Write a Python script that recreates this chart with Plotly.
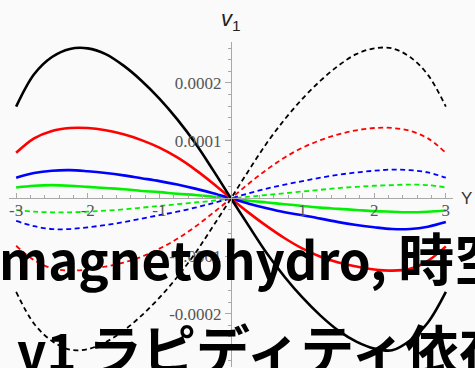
import plotly.graph_objects as go

# Rapidity grid
rapidity = [-3, -2.75, -2.5, -2.25, -2, -1.75, -1.5, -1.25, -1, -0.75, -0.5, -0.25,
            0, 0.25, 0.5, 0.75, 1, 1.25, 1.5, 1.75, 2, 2.25, 2.5, 2.75, 3]

# v1 values in units of 1e-4 (solid = one side, dashed = opposite side)
black_solid = [1.59, 2.15, 2.45, 2.59, 2.60, 2.50, 2.30, 2.04, 1.73, 1.37, 0.96, 0.49,
               0, -0.48, -0.95, -1.36, -1.72, -2.03, -2.29, -2.48, -2.60, -2.63, -2.46, -2.15, -1.62]
black_dash = [-1.62, -2.17, -2.47, -2.62, -2.61, -2.49, -2.29, -2.03, -1.72, -1.36, -0.95, -0.48,
              0, 0.49, 0.96, 1.37, 1.73, 2.04, 2.30, 2.50, 2.60, 2.60, 2.45, 2.14, 1.59]
red_solid = [0.79, 1.04, 1.17, 1.22, 1.22, 1.18, 1.11, 1.01, 0.88, 0.71, 0.50, 0.26,
             0, -0.25, -0.48, -0.69, -0.87, -1.01, -1.11, -1.18, -1.23, -1.25, -1.22, -1.08, -0.83]
red_dash = [-0.82, -1.07, -1.21, -1.25, -1.23, -1.18, -1.11, -1.01, -0.87, -0.70, -0.49, -0.25,
            0, 0.26, 0.50, 0.71, 0.88, 1.01, 1.11, 1.18, 1.22, 1.22, 1.17, 1.04, 0.79]
blue_solid = [0.36, 0.44, 0.48, 0.49, 0.47, 0.44, 0.40, 0.35, 0.30, 0.24, 0.17, 0.09,
              0, -0.09, -0.17, -0.24, -0.29, -0.35, -0.41, -0.46, -0.50, -0.53, -0.53, -0.49, -0.41]
blue_dash = [-0.39, -0.48, -0.53, -0.53, -0.50, -0.46, -0.41, -0.35, -0.29, -0.23, -0.16, -0.08,
             0, 0.09, 0.17, 0.24, 0.30, 0.36, 0.41, 0.45, 0.48, 0.50, 0.49, 0.45, 0.36]
green_solid = [0.19, 0.22, 0.23, 0.22, 0.20, 0.18, 0.16, 0.13, 0.11, 0.08, 0.06, 0.03,
               0, -0.04, -0.07, -0.10, -0.13, -0.16, -0.18, -0.20, -0.22, -0.23, -0.24, -0.23, -0.21]
green_dash = [-0.20, -0.23, -0.24, -0.24, -0.23, -0.21, -0.19, -0.16, -0.13, -0.10, -0.07, -0.04,
              0, 0.03, 0.06, 0.09, 0.12, 0.15, 0.18, 0.20, 0.22, 0.23, 0.24, 0.23, 0.19]

x_ticks = [-3, -2, -1, 1, 2, 3]
x_tick_text = ["-3", "-2", "-1", "1", "2", "3"]
y_ticks = [-0.0002, -0.0001, 0.0001, 0.0002]
y_tick_text = ["-0.0002", "-0.0001", "0.0001", "0.0002"]

SCALE = 1e-4
X_RANGE = [-3.1, 3.1]
Y_RANGE = [-0.000292, 0.000271]

fig = go.Figure()

series = [
    (green_dash, "#00f000", "dash"), (blue_dash, "#0000ff", "dash"),
    (red_dash, "#ff0000", "dash"), (black_dash, "#000000", "dash"),
    (green_solid, "#00f000", "solid"), (blue_solid, "#0000ff", "solid"),
    (red_solid, "#ff0000", "solid"), (black_solid, "#000000", "solid"),
]
for vals, color, style in series:
    fig.add_trace(go.Scatter(
        x=rapidity, y=[v * SCALE for v in vals], mode="lines",
        line=dict(color=color, width=2.6 if style == "solid" else 1.8,
                  dash="solid" if style == "solid" else "5px,3.5px", shape="spline"),
        showlegend=False, hoverinfo="skip",
    ))

axis_color = "#a8a8a8"
tick_font = dict(family="Liberation Serif, Times New Roman, serif", size=17, color="#555555")

fig.update_layout(
    width=475, height=368,
    margin=dict(l=9, r=22, t=42, b=1),
    paper_bgcolor="#fafafa", plot_bgcolor="#fafafa",
    xaxis=dict(
        range=X_RANGE, showgrid=False, zeroline=False,
        showline=True, linecolor=axis_color, linewidth=1,
        anchor="free", position=(0 - Y_RANGE[0]) / (Y_RANGE[1] - Y_RANGE[0]),
        tickvals=x_ticks, ticktext=x_tick_text, ticks="inside", ticklen=5,
        ticklabelstandoff=-4,
        tickcolor=axis_color, tickfont=tick_font,
        minor=dict(ticks="inside", dtick=0.2, ticklen=3, tickcolor=axis_color, showgrid=False),
    ),
    yaxis=dict(
        range=Y_RANGE, showgrid=False, zeroline=False,
        showline=True, linecolor=axis_color, linewidth=1,
        anchor="free", position=(0 - X_RANGE[0]) / (X_RANGE[1] - X_RANGE[0]),
        tickvals=y_ticks, ticktext=y_tick_text, ticks="outside", ticklen=6,
        tickcolor=axis_color, tickfont=tick_font,
        minor=dict(ticks="outside", dtick=0.00002, ticklen=3, tickcolor=axis_color, showgrid=False),
    ),
)

# Axis labels
fig.add_annotation(x=0, xref="x", y=1.068, yref="paper", text="<i>v</i><sub>1</sub>",
                   showarrow=False, xanchor="center", yanchor="middle",
                   font=dict(family="Liberation Sans", size=22, color="#222222"))
fig.add_annotation(x=1.0315, xref="paper", y=0, yref="y", text="Y",
                   showarrow=False, xanchor="center", yanchor="middle",
                   font=dict(family="Liberation Sans", size=17, color="#333333"))

# Title lines overlaid on the chart
big_font = dict(family="Noto Sans CJK JP", size=51, color="#000000", weight="bold")
cjk_line1 = "<span style='font-size:56px'>{}</span>"
cjk_line2 = "<span style='font-size:54px'>{}</span>"
fig.add_annotation(x=-0.027, xref="paper", y=(367 - 255) / 325, yref="paper",
                   text="magnetohydro, " + cjk_line1.format("時空発展"), showarrow=False,
                   xanchor="left", yanchor="middle", font=big_font)
fig.add_annotation(x=(15 - 9) / 444, xref="paper", y=(367 - 347) / 325, yref="paper",
                   text="v1 " + cjk_line2.format("ラピディティ依存性"), showarrow=False,
                   xanchor="left", yanchor="middle", font=big_font)

fig.write_html("out.html")
